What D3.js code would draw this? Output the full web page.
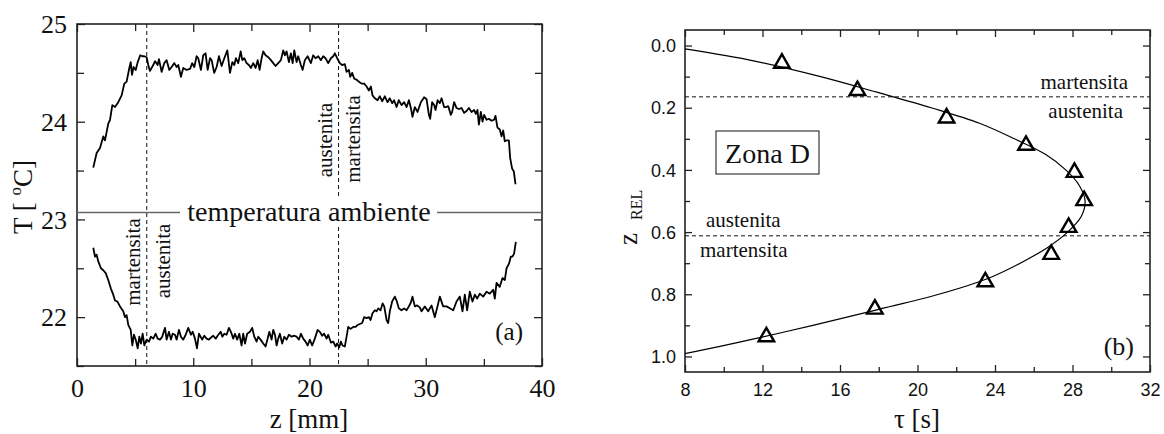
<!DOCTYPE html>
<html>
<head>
<meta charset="utf-8">
<script src="https://cdn.jsdelivr.net/npm/d3@7"></script>
<style>
  body { margin: 0; background: #fff; }
  svg { display: block; }
</style>
</head>
<body>
<svg id="chart" width="1164" height="434"></svg>
<script>
// Panel (a): temperature profiles, [z mm, T degC]
var upperCurve = [
  [1.40,23.53],[1.69,23.68],[1.98,23.73],[2.26,23.85],[2.41,23.81],[2.69,23.98],[2.84,24.02],
  [3.04,24.17],[3.27,24.15],[3.55,24.20],[3.84,24.27],[4.07,24.39],[4.27,24.41],[4.50,24.55],
  [4.62,24.61],[4.73,24.48],[4.87,24.56],[5.05,24.53],[5.22,24.61],[5.44,24.68],[5.62,24.67],
  [5.79,24.67],[5.99,24.66],[6.13,24.58],[6.28,24.52],[6.56,24.58],[6.71,24.62],[6.94,24.58],
  [7.05,24.64],[7.28,24.51],[7.51,24.60],[7.71,24.63],[7.94,24.53],[8.14,24.56],[8.37,24.60],
  [8.57,24.56],[8.71,24.58],[8.94,24.46],[9.14,24.55],[9.43,24.53],[9.72,24.54],[9.91,24.60],
  [10.09,24.56],[10.29,24.67],[10.43,24.65],[10.66,24.53],[10.86,24.68],[11.06,24.70],[11.24,24.53],
  [11.44,24.65],[11.58,24.63],[11.80,24.50],[12.01,24.56],[12.21,24.67],[12.44,24.57],[12.67,24.65],
  [12.93,24.73],[13.16,24.50],[13.36,24.61],[13.53,24.58],[13.67,24.65],[13.87,24.60],[14.08,24.72],
  [14.22,24.63],[14.39,24.65],[14.59,24.60],[14.79,24.58],[14.96,24.55],[15.16,24.60],[15.36,24.55],
  [15.54,24.63],[15.71,24.53],[15.88,24.65],[16.02,24.72],[16.22,24.68],[16.45,24.66],[16.68,24.63],
  [16.88,24.60],[17.08,24.57],[17.31,24.60],[17.54,24.63],[17.74,24.73],[17.88,24.68],[18.03,24.72],
  [18.23,24.61],[18.40,24.70],[18.55,24.60],[18.69,24.73],[18.89,24.61],[19.03,24.67],[19.26,24.58],
  [19.41,24.53],[19.60,24.63],[19.84,24.67],[20.12,24.60],[20.32,24.68],[20.52,24.65],[20.75,24.67],
  [20.98,24.63],[21.18,24.67],[21.38,24.65],[21.61,24.60],[21.84,24.65],[22.04,24.67],[22.18,24.70],
  [22.38,24.65],[22.61,24.60],[22.81,24.58],[23.04,24.59],[23.19,24.51],[23.39,24.53],[23.50,24.46],
  [23.67,24.50],[23.85,24.44],[24.05,24.43],[24.25,24.41],[24.48,24.39],[24.70,24.39],[24.91,24.36],
  [25.11,24.32],[25.28,24.36],[25.42,24.27],[25.62,24.24],[25.85,24.22],[26.05,24.26],[26.25,24.21],
  [26.48,24.26],[26.71,24.20],[26.91,24.24],[27.11,24.19],[27.28,24.22],[27.49,24.15],[27.68,24.22],
  [27.92,24.17],[28.14,24.20],[28.35,24.15],[28.55,24.22],[28.72,24.14],[28.86,24.05],[29.06,24.15],
  [29.29,24.10],[29.58,24.20],[29.86,24.25],[30.07,24.23],[30.27,24.07],[30.38,24.03],[30.55,24.20],
  [30.72,24.17],[30.84,24.12],[31.02,24.22],[31.21,24.19],[31.36,24.24],[31.58,24.15],[31.78,24.15],
  [31.93,24.16],[32.16,24.07],[32.27,24.10],[32.44,24.20],[32.65,24.14],[32.85,24.13],[33.08,24.14],
  [33.30,24.09],[33.51,24.11],[33.71,24.14],[33.94,24.10],[34.16,24.12],[34.31,24.08],[34.45,24.12],
  [34.57,23.97],[34.74,24.10],[34.88,24.00],[35.02,24.07],[35.23,24.02],[35.43,24.03],[35.66,24.01],
  [35.88,24.02],[36.00,24.06],[36.17,23.94],[36.37,23.92],[36.52,23.85],[36.66,23.91],[36.80,23.80],
  [37.00,23.81],[37.15,23.81],[37.26,23.63],[37.43,23.52],[37.58,23.49],[37.72,23.36]
];

var lowerCurve = [
  [1.40,22.71],[1.55,22.62],[1.69,22.64],[1.83,22.57],[2.06,22.50],[2.26,22.48],[2.47,22.45],
  [2.69,22.38],[2.92,22.29],[3.12,22.23],[3.27,22.17],[3.47,22.16],[3.70,22.11],[3.98,22.06],
  [4.13,22.00],[4.27,22.02],[4.41,21.92],[4.62,21.87],[4.76,21.71],[4.90,21.82],[5.05,21.77],
  [5.22,21.68],[5.36,21.80],[5.50,21.73],[5.65,21.83],[5.79,21.71],[5.99,21.77],[6.19,21.75],
  [6.36,21.80],[6.56,21.78],[6.77,21.83],[6.94,21.78],[7.14,21.77],[7.33,21.80],[7.57,21.89],
  [7.71,21.77],[7.91,21.85],[8.08,21.77],[8.23,21.83],[8.43,21.82],[8.57,21.77],[8.77,21.87],
  [8.94,21.80],[9.14,21.77],[9.35,21.82],[9.57,21.89],[9.80,21.82],[9.95,21.85],[10.15,21.78],
  [10.32,21.68],[10.49,21.83],[10.77,21.77],[10.95,21.81],[11.15,21.78],[11.35,21.77],[11.52,21.79],
  [11.72,21.81],[11.93,21.78],[12.15,21.82],[12.36,21.85],[12.50,21.80],[12.67,21.83],[12.87,21.82],
  [13.07,21.89],[13.24,21.85],[13.44,21.78],[13.59,21.83],[13.78,21.77],[13.96,21.83],[14.16,21.71],
  [14.30,21.83],[14.45,21.73],[14.64,21.83],[14.88,21.85],[15.07,21.89],[15.25,21.80],[15.45,21.75],
  [15.59,21.80],[15.79,21.77],[16.02,21.73],[16.22,21.70],[16.40,21.78],[16.54,21.85],[16.74,21.77],
  [16.88,21.87],[17.03,21.82],[17.17,21.71],[17.31,21.78],[17.45,21.83],[17.65,21.73],[17.83,21.80],
  [18.03,21.77],[18.23,21.82],[18.46,21.80],[18.69,21.81],[18.89,21.80],[19.09,21.77],[19.26,21.83],
  [19.46,21.78],[19.66,21.75],[19.84,21.71],[20.03,21.77],[20.23,21.71],[20.46,21.78],[20.70,21.87],
  [20.89,21.85],[21.09,21.81],[21.26,21.83],[21.47,21.78],[21.61,21.82],[21.84,21.74],[22.04,21.75],
  [22.24,21.70],[22.38,21.73],[22.55,21.69],[22.70,21.75],[22.84,21.71],[23.04,21.70],[23.19,21.80],
  [23.33,21.90],[23.53,21.88],[23.76,21.90],[23.97,21.90],[24.14,21.92],[24.33,21.93],[24.53,21.94],
  [24.70,22.00],[24.91,21.99],[25.11,22.00],[25.25,21.97],[25.42,22.04],[25.62,22.07],[25.77,22.06],
  [25.91,22.09],[26.11,22.07],[26.29,22.14],[26.43,22.11],[26.63,21.97],[26.77,21.94],[26.91,22.06],
  [27.11,22.16],[27.34,22.21],[27.49,22.17],[27.68,22.09],[27.92,22.07],[28.14,22.09],[28.35,22.07],
  [28.55,22.11],[28.72,22.15],[28.86,22.21],[29.06,22.11],[29.26,22.12],[29.49,22.10],[29.64,22.06],
  [29.92,22.11],[30.21,22.06],[30.50,22.12],[30.78,22.00],[31.07,22.14],[31.21,22.21],[31.50,22.11],
  [31.79,22.11],[32.07,22.09],[32.36,22.07],[32.65,22.16],[32.93,22.21],[33.16,22.06],[33.36,22.23],
  [33.56,22.07],[33.79,22.26],[34.02,22.16],[34.22,22.23],[34.42,22.19],[34.65,22.24],[34.94,22.21],
  [35.23,22.26],[35.51,22.24],[35.80,22.28],[35.94,22.19],[36.09,22.35],[36.37,22.31],[36.60,22.40],
  [36.80,22.38],[36.95,22.50],[37.17,22.55],[37.32,22.62],[37.46,22.62],[37.60,22.65],[37.75,22.77]
];

var ambientT = 23.07;
var boundariesZ = [6.0, 22.5];
var aXTicks = [0, 10, 20, 30, 40];
var aYTicks = [22, 23, 24, 25];

// Panel (b): measured points and fitted curve, tau [s] vs z_REL
var obsTau = [13.0, 16.9, 21.5, 25.6, 28.1, 28.6, 27.8, 26.9, 23.5, 17.8, 12.2];
var obsZ = [0.052, 0.14, 0.228, 0.316, 0.403, 0.494, 0.58, 0.667, 0.755, 0.843, 0.932];
var fitZ = [0.011, 0.05, 0.10, 0.15, 0.20, 0.25, 0.30, 0.35, 0.40, 0.45, 0.50,
            0.55, 0.60, 0.65, 0.70, 0.75, 0.80, 0.85, 0.90, 0.95, 0.991];
var fitTau = [8.0, 11.6, 15.0, 17.9, 20.7, 23.2, 25.0, 26.6, 27.65, 28.35, 28.65,
              28.45, 27.75, 26.7, 25.3, 23.6, 21.1, 17.9, 14.6, 11.1, 8.0];
var phaseZ = [0.165, 0.612];
var bXTicks = [8, 12, 16, 20, 24, 28, 32];
var bYTicks = [0.0, 0.2, 0.4, 0.6, 0.8, 1.0];

var svg = d3.select("#chart");
var serif = "'Liberation Serif', 'Times New Roman', serif";
var sans = "'Liberation Sans', Arial, sans-serif";

// draws a framed box with inward ticks on all four sides, labels bottom/left only
function inwardAxes(g, x, y, xMajor, xMinor, yMajor, yMinor, len, minLen, labels, fontFam, fontSize, yFmt) {
  var x0 = d3.min(x.range()), x1 = d3.max(x.range());
  var yb = d3.max(y.range()), yt = d3.min(y.range());
  g.append("g").attr("transform", "translate(0," + yb + ")")
    .call(d3.axisBottom(x).tickValues(xMinor).tickSize(-minLen).tickFormat(""));
  g.append("g").attr("transform", "translate(0," + yt + ")")
    .call(d3.axisTop(x).tickValues(xMinor).tickSize(-minLen).tickFormat(""));
  g.append("g").attr("transform", "translate(" + x0 + ",0)")
    .call(d3.axisLeft(y).tickValues(yMinor).tickSize(-minLen).tickFormat(""));
  g.append("g").attr("transform", "translate(" + x1 + ",0)")
    .call(d3.axisRight(y).tickValues(yMinor).tickSize(-minLen).tickFormat(""));
  var bAx = g.append("g").attr("transform", "translate(0," + yb + ")")
    .call(d3.axisBottom(x).tickValues(xMajor).tickSize(-len).tickPadding(labels.xPad).tickFormat(d3.format("d")));
  var lAx = g.append("g").attr("transform", "translate(" + x0 + ",0)")
    .call(d3.axisLeft(y).tickValues(yMajor).tickSize(-len).tickPadding(labels.yPad).tickFormat(yFmt));
  g.append("g").attr("transform", "translate(0," + yt + ")")
    .call(d3.axisTop(x).tickValues(xMajor).tickSize(-len).tickFormat(""));
  g.append("g").attr("transform", "translate(" + x1 + ",0)")
    .call(d3.axisRight(y).tickValues(yMajor).tickSize(-len).tickFormat(""));
  g.selectAll(".domain").remove();
  g.selectAll(".tick line").attr("stroke", "#222").attr("stroke-width", 1.3);
  g.selectAll(".tick text").attr("font-family", fontFam).attr("font-size", fontSize).attr("fill", "#111");
  bAx.selectAll(".tick text").attr("dy", labels.xDy);
  lAx.selectAll(".tick text").attr("dy", labels.yDy);
  g.append("rect").attr("x", x0).attr("y", yt).attr("width", x1 - x0).attr("height", yb - yt)
    .attr("fill", "none").attr("stroke", "#222").attr("stroke-width", 1.6);
}

// ---------- panel (a) ----------
var ax = d3.scaleLinear().domain([0, 40]).range([77, 542]);
var ay = d3.scaleLinear().domain([21.5, 25]).range([366, 24]);
var pa = svg.append("g");

inwardAxes(pa, ax, ay, aXTicks, [5, 15, 25, 35], aYTicks, [21.5, 22.5, 23.5, 24.5], 8, 7,
  { xPad: 12, yPad: 10, xDy: "0.72em", yDy: "0.34em" }, serif, 26, d3.format("d"));

// dashed phase boundaries
pa.selectAll(".bnd").data(boundariesZ).enter().append("line")
  .attr("x1", function(d) { return ax(d); }).attr("x2", function(d) { return ax(d); })
  .attr("y1", ay(25)).attr("y2", ay(21.5))
  .attr("stroke", "#111").attr("stroke-width", 1).attr("stroke-dasharray", "4,3");

// ambient line with a gap for its label
var ambY = ay(ambientT);
pa.append("rect").attr("x", 184).attr("y", ambY - 14).attr("width", 250).attr("height", 26).attr("fill", "#fff");
pa.append("line").attr("x1", ax(0)).attr("x2", 180).attr("y1", ambY).attr("y2", ambY)
  .attr("stroke", "#666").attr("stroke-width", 1.5);
pa.append("line").attr("x1", 437).attr("x2", ax(40)).attr("y1", ambY).attr("y2", ambY)
  .attr("stroke", "#666").attr("stroke-width", 1.5);
pa.append("text").attr("x", 309).attr("y", ambY + 8).attr("text-anchor", "middle")
  .attr("font-family", serif).attr("font-size", 28).attr("fill", "#111")
  .text("temperatura ambiente");

var lineA = d3.line().x(function(d) { return ax(d[0]); }).y(function(d) { return ay(d[1]); });
[upperCurve, lowerCurve].forEach(function(c) {
  pa.append("path").datum(c).attr("d", lineA).attr("fill", "none")
    .attr("stroke", "#000").attr("stroke-width", 1.8).attr("stroke-linejoin", "round");
});

// rotated phase labels
function vlabel(g, x, y, txt) {
  g.append("text").attr("transform", "translate(" + x + "," + y + ")rotate(-90)")
    .attr("text-anchor", "middle").attr("font-family", serif).attr("font-size", 21)
    .attr("fill", "#111").text(txt);
}
vlabel(pa, 332, 140, "austenita");
vlabel(pa, 360, 139, "martensita");
vlabel(pa, 140, 262, "martensita");
vlabel(pa, 170, 261, "austenita");

pa.append("text").attr("x", 523).attr("y", 340).attr("text-anchor", "end")
  .attr("font-family", serif).attr("font-size", 25).attr("fill", "#111").text("(a)");

pa.append("text").attr("x", 309).attr("y", 428).attr("text-anchor", "middle")
  .attr("font-family", serif).attr("font-size", 27).attr("fill", "#111").text("z [mm]");

var tl = pa.append("text").attr("transform", "translate(32,197)rotate(-90)")
  .attr("text-anchor", "middle").attr("font-family", serif).attr("font-size", 27).attr("fill", "#111");
tl.append("tspan").text("T [ ");
tl.append("tspan").attr("font-size", 17).attr("dy", -11).text("o");
tl.append("tspan").attr("dy", 11).text("C]");

// ---------- panel (b) ----------
var bx = d3.scaleLinear().domain([8, 32]).range([685, 1150]);
var by = d3.scaleLinear().domain([-0.05, 1.05]).range([30, 372]);
var pb = svg.append("g");

inwardAxes(pb, bx, by, bXTicks, [10, 14, 18, 22, 26, 30], bYTicks, [0.1, 0.3, 0.5, 0.7, 0.9], 7, 5,
  { xPad: 11, yPad: 9, xDy: "0.72em", yDy: "0.34em" }, sans, 18, d3.format(".1f"));

pb.selectAll(".ph").data(phaseZ).enter().append("line")
  .attr("x1", bx(8)).attr("x2", bx(32))
  .attr("y1", function(d) { return by(d); }).attr("y2", function(d) { return by(d); })
  .attr("stroke", "#111").attr("stroke-width", 1).attr("stroke-dasharray", "4,3");

var fitPts = fitZ.map(function(z, i) { return [fitTau[i], z]; });
pb.append("path").datum(fitPts)
  .attr("d", d3.line().x(function(d) { return bx(d[0]); }).y(function(d) { return by(d[1]); })
    .curve(d3.curveCatmullRom.alpha(0.5)))
  .attr("fill", "none").attr("stroke", "#000").attr("stroke-width", 1.2);

var tri = d3.symbol().type(d3.symbolTriangle).size(105);
pb.selectAll(".obs").data(obsTau).enter().append("path")
  .attr("d", tri)
  .attr("transform", function(d, i) { return "translate(" + bx(d) + "," + (by(obsZ[i]) + 1.5) + ")"; })
  .attr("fill", "none").attr("stroke", "#000").attr("stroke-width", 2.4);

function blabel(x, y, anchor, txt) {
  pb.append("text").attr("x", x).attr("y", y).attr("text-anchor", anchor)
    .attr("font-family", serif).attr("font-size", 21).attr("fill", "#111").text(txt);
}
blabel(1128, 89, "end", "martensita");
blabel(1123, 118, "end", "austenita");
blabel(706, 227, "start", "austenita");
blabel(700, 257, "start", "martensita");

pb.append("rect").attr("x", 716).attr("y", 131).attr("width", 103).attr("height", 43)
  .attr("fill", "#fff").attr("stroke", "#111").attr("stroke-width", 1);
pb.append("text").attr("x", 767.5).attr("y", 163).attr("text-anchor", "middle")
  .attr("font-family", serif).attr("font-size", 28).attr("fill", "#111").text("Zona D");

pb.append("text").attr("x", 1134).attr("y", 355).attr("text-anchor", "end")
  .attr("font-family", serif).attr("font-size", 26).attr("fill", "#111").text("(b)");

pb.append("text").attr("x", 917).attr("y", 428).attr("text-anchor", "middle")
  .attr("font-family", serif).attr("font-size", 27).attr("fill", "#111").text("τ [s]");

var zl = pb.append("text").attr("transform", "translate(637,245)rotate(-90)")
  .attr("text-anchor", "start").attr("font-family", serif).attr("font-size", 27).attr("fill", "#111");
zl.append("tspan").text("z");
zl.append("tspan").attr("font-size", 16).attr("dx", 13).attr("dy", 5).text("REL");
</script>
</body>
</html>
